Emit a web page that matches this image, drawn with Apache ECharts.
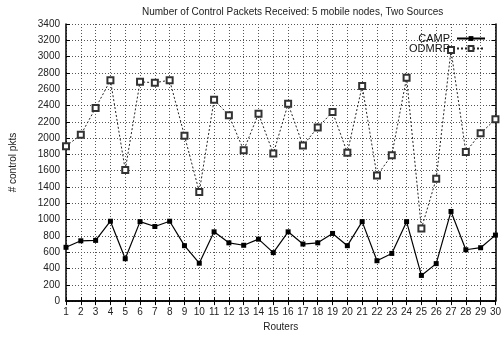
<!DOCTYPE html>
<html>
<head>
<meta charset="utf-8">
<script src="https://cdn.jsdelivr.net/npm/echarts@6/dist/echarts.min.js"></script>
<style>
  html, body { margin: 0; padding: 0; background: #fff; }
  #main { width: 504px; height: 337px; }
</style>
</head>
<body>
<div id="main"></div>
<script>
// routers 1..30
const routers = ['1', '2', '3', '4', '5', '6', '7', '8', '9', '10',
  '11', '12', '13', '14', '15', '16', '17', '18', '19', '20',
  '21', '22', '23', '24', '25', '26', '27', '28', '29', '30']

// control packets received
const camp = [660, 740, 745, 980, 520, 975, 915, 980, 680, 465,
  850, 715, 685, 760, 595, 850, 700, 715, 830, 680,
  975, 495, 585, 975, 315, 460, 1100, 630, 655, 810]
const odmrp = [1900, 2040, 2370, 2710, 1610, 2690, 2680, 2710, 2030, 1340,
  2470, 2280, 1850, 2300, 1810, 2420, 1910, 2130, 2320, 1820,
  2640, 1540, 1790, 2740, 890, 1500, 3080, 1830, 2060, 2230]

const font = 'Liberation Sans, Arial, sans-serif'
const gridLine = { show: true, lineStyle: { color: '#555', type: [1, 2], width: 1 } }

const myChart = echarts.init(document.getElementById('main'))
const option = {
  animation: false,
  title: {
    text: 'Number of Control Packets Received: 5 mobile nodes, Two Sources',
    left: 137,
    top: 2,
    textStyle: { fontFamily: font, fontSize: 10, fontWeight: 'normal', color: '#222' }
  },
  legend: [
    {
      data: ['CAMP'],
      right: 13,
      top: 28,
      align: 'right',
      itemWidth: 28,
      itemHeight: 6,
      itemGap: 0,
      textStyle: { fontFamily: font, fontSize: 11, color: '#111', padding: [0, 2, 0, 0] }
    },
    {
      data: ['ODMRP'],
      right: 13,
      top: 38,
      align: 'right',
      itemWidth: 28,
      itemHeight: 6,
      itemGap: 0,
      textStyle: { fontFamily: font, fontSize: 11, color: '#111', padding: [0, 2, 0, 0] }
    }
  ],
  grid: {
    left: 65,
    right: 2,
    top: 24,
    bottom: 31
  },
  xAxis: [
    {
      type: 'category',
      data: routers,
      boundaryGap: false,
      name: 'Routers',
      nameLocation: 'middle',
      nameGap: 20,
      nameTextStyle: { fontFamily: font, fontSize: 10, color: '#222' },
      axisLine: { lineStyle: { color: '#000', width: 1.5 } },
      axisTick: { inside: true, length: 4, lineStyle: { color: '#000' } },
      axisLabel: { fontFamily: font, fontSize: 10, color: '#222', interval: 0, margin: 6 },
      splitLine: gridLine
    },
    {
      type: 'category',
      data: routers,
      boundaryGap: false,
      position: 'top',
      axisLine: { lineStyle: { color: '#000', width: 1.5 } },
      axisTick: { inside: true, length: 4, interval: 0, lineStyle: { color: '#000' } },
      axisLabel: { show: false }
    }
  ],
  yAxis: [
    {
      type: 'value',
      min: 0,
      max: 3400,
      interval: 200,
      name: '# control pkts',
      nameLocation: 'middle',
      nameGap: 48,
      nameTextStyle: { fontFamily: font, fontSize: 10, color: '#222' },
      axisLine: { show: true, lineStyle: { color: '#000', width: 1.5 } },
      axisTick: { show: true, inside: true, length: 4, lineStyle: { color: '#000' } },
      axisLabel: { fontFamily: font, fontSize: 10, color: '#222', margin: 6, formatter: v => String(v) },
      splitLine: gridLine
    },
    {
      type: 'value',
      min: 0,
      max: 3400,
      interval: 200,
      position: 'right',
      axisLine: { show: true, lineStyle: { color: '#000', width: 1.5 } },
      axisTick: { show: true, inside: true, length: 4, lineStyle: { color: '#000' } },
      axisLabel: { show: false },
      splitLine: { show: false }
    }
  ],
  series: [
    {
      name: 'CAMP',
      type: 'line',
      data: camp,
      symbol: 'rect',
      symbolSize: 5,
      itemStyle: { color: '#000' },
      lineStyle: { color: '#000', width: 1.2, type: 'solid' }
    },
    {
      name: 'ODMRP',
      type: 'line',
      data: odmrp,
      symbol: 'emptyRect',
      symbolSize: 6,
      itemStyle: { color: '#333', borderColor: '#333', borderWidth: 1.2 },
      lineStyle: { color: '#222', width: 1, type: [2, 2] }
    }
  ]
}
myChart.setOption(option)
</script>
</body>
</html>
